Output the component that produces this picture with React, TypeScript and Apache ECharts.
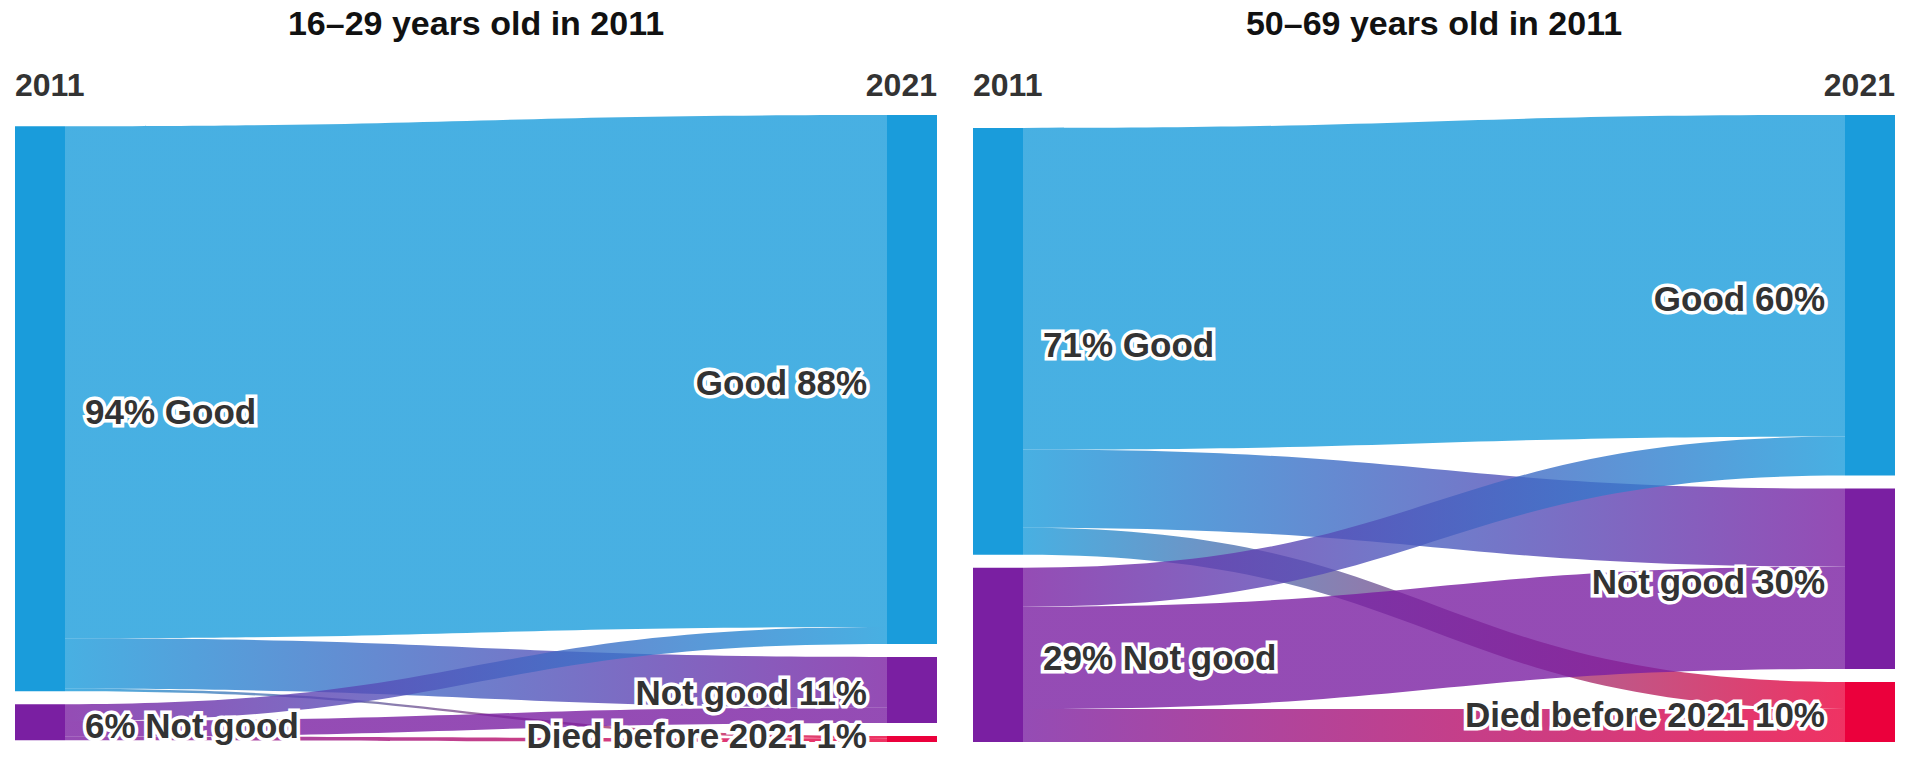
import React, { useEffect, useRef } from "react";
import * as echarts from "echarts";

// ---- data ----
const years = ["2011", "2021"];
const panelTitles = ["16–29 years old in 2011", "50–69 years old in 2011"];
const startStates = ["Good", "Not good"];
const endStates = ["Good", "Not good", "Died before 2021"];

// share of each group (%)
const youngStart = [94, 6];
const youngEnd = [88, 11, 1];
// flows: rows = 2011 state, cols = 2021 state
const youngFlows = [
  [85.2, 8.4, 0.4],
  [2.8, 2.6, 0.6],
];

const olderStart = [71, 29];
const olderEnd = [60, 30, 10];
const olderFlows = [
  [53.5, 13, 4.5],
  [6.5, 17, 5.5],
];

const stateColors = ["#1a9cdb", "#7a1fa2", "#eb003c"];

const FONT = "'Liberation Sans', Arial, Helvetica, sans-serif";

const labelBase = {
  fontSize: 35,
  fontWeight: "bold" as const,
  color: "#333333",
  fontFamily: FONT,
  textBorderColor: "#ffffff",
  textBorderWidth: 7,
  offset: [0, 3],
};

function buildSeries(
  left: number,
  start: number[],
  end: number[],
  flows: number[][]
) {
  const nodes: any[] = [];
  startStates.forEach((s, i) => {
    nodes.push({
      name: years[0] + "|" + s,
      itemStyle: { color: stateColors[i], borderWidth: 0 },
      label: { ...labelBase, position: "right", distance: 20, formatter: `${start[i]}% ${s}` },
    });
  });
  endStates.forEach((s, j) => {
    // keep the bottom-most (very thin) node's label inside the canvas
    const lastThin = j === endStates.length - 1 && end[j] < 3;
    nodes.push({
      name: years[1] + "|" + s,
      itemStyle: { color: stateColors[j], borderWidth: 0 },
      label: {
        ...labelBase,
        position: "left",
        distance: 20,
        offset: lastThin ? [0, -3] : labelBase.offset,
        formatter: `${s} ${end[j]}%`,
      },
    });
  });
  const links: any[] = [];
  flows.forEach((row, i) =>
    row.forEach((v, j) => {
      links.push({
        source: years[0] + "|" + startStates[i],
        target: years[1] + "|" + endStates[j],
        value: v,
      });
    })
  );
  return {
    type: "sankey",
    left,
    top: 115,
    width: 922,
    height: 627,
    nodeWidth: 50,
    nodeGap: 13,
    draggable: false,
    silent: true,
    emphasis: { disabled: true },
    lineStyle: { color: "gradient", opacity: 0.8, curveness: 0.5 },
    data: nodes,
    links,
  };
}

export default function App() {
  const ref = useRef<HTMLDivElement>(null);
  useEffect(() => {
    if (!ref.current) return;
    const chart = echarts.init(ref.current, undefined, { renderer: "svg" });
    const panelLefts = [15, 973];
    const graphics: any[] = [];
    panelLefts.forEach((pl, k) => {
      graphics.push({
        type: "text",
        x: pl + 461,
        y: 23,
        style: {
          text: panelTitles[k],
          fontSize: 34,
          fontWeight: "bold",
          fontFamily: FONT,
          fill: "#111111",
          align: "center",
          verticalAlign: "middle",
        },
      });
      graphics.push({
        type: "text",
        x: pl,
        y: 85,
        style: {
          text: years[0],
          fontSize: 32,
          fontWeight: "bold",
          fontFamily: FONT,
          fill: "#333333",
          align: "left",
          verticalAlign: "middle",
        },
      });
      graphics.push({
        type: "text",
        x: pl + 922,
        y: 85,
        style: {
          text: years[1],
          fontSize: 32,
          fontWeight: "bold",
          fontFamily: FONT,
          fill: "#333333",
          align: "right",
          verticalAlign: "middle",
        },
      });
    });
    chart.setOption({
      animation: false,
      backgroundColor: "#ffffff",
      graphic: graphics,
      series: [
        buildSeries(15, youngStart, youngEnd, youngFlows),
        buildSeries(973, olderStart, olderEnd, olderFlows),
      ],
    });
    return () => chart.dispose();
  }, []);
  return (
    <div
      ref={ref}
      style={{ position: "fixed", left: 0, top: 0, width: 1908, height: 758, background: "#fff" }}
    />
  );
}
